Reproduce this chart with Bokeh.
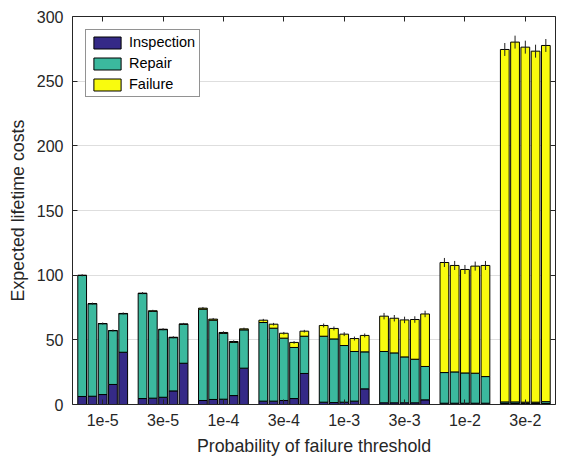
import numpy as np
from bokeh.plotting import figure
from bokeh.models import (ColumnDataSource, FixedTicker, LinearAxis, Range1d,
                          Legend, LegendItem)
from bokeh.embed import file_html
from bokeh.resources import INLINE

# Probability-of-failure thresholds (one group of five runs each)
thresholds = ["1e-5", "3e-5", "1e-4", "3e-4", "1e-3", "3e-3", "1e-2", "3e-2"]

# Expected lifetime cost components per run
inspection = [
    [6.2, 6.4, 7.7, 15.5, 40.4],
    [4.6, 4.9, 5.6, 10.5, 31.9],
    [3.1, 3.9, 4.1, 6.9, 28.1],
    [2.6, 2.6, 3.1, 4.6, 24.0],
    [1.8, 1.5, 1.8, 2.6, 12.1],
    [1.3, 1.3, 1.3, 1.3, 3.6],
    [1.0, 1.0, 1.0, 1.0, 1.0],
    [0.8, 0.8, 0.8, 0.8, 0.8],
]
repair = [
    [93.6, 71.5, 54.8, 41.6, 29.8],
    [81.2, 67.2, 52.3, 41.2, 30.1],
    [70.6, 61.3, 50.9, 41.1, 29.6],
    [60.8, 56.4, 48.2, 39.5, 28.8],
    [51.0, 49.2, 43.8, 38.4, 28.6],
    [39.7, 38.6, 35.5, 33.7, 25.8],
    [23.7, 24.2, 23.4, 23.2, 20.6],
    [1.2, 1.2, 1.0, 1.0, 1.4],
]
failure = [
    [0.1, 0.1, 0.1, 0.1, 0.2],
    [0.3, 0.3, 0.3, 0.3, 0.3],
    [0.8, 0.8, 0.7, 0.7, 0.8],
    [1.8, 3.1, 3.8, 3.9, 3.9],
    [8.3, 8.1, 8.8, 10.0, 12.7],
    [27.3, 26.8, 28.6, 30.7, 40.6],
    [85.1, 82.3, 80.0, 82.8, 85.9],
    [272.5, 278.2, 274.5, 271.4, 275.4],
]
# Half-width of the uncertainty on the total cost
error = [
    [0.8, 0.8, 0.8, 0.8, 0.8],
    [0.8, 0.8, 0.8, 0.8, 0.8],
    [0.9, 0.9, 0.9, 0.9, 0.9],
    [1.0, 1.0, 1.0, 1.0, 1.0],
    [1.5, 1.5, 1.5, 1.5, 1.5],
    [2.5, 2.5, 2.5, 2.5, 2.5],
    [3.5, 3.5, 3.5, 3.5, 3.5],
    [5.0, 5.0, 5.0, 5.0, 5.0],
]

FONT = "Liberation Sans"
TXT = "#262626"
C_INSP, C_REP, C_FAIL = "#352A87", "#3BB99E", "#F9FB0E"

n_groups = len(thresholds)
n_runs = len(inspection[0])
pitch = 0.17
x = np.array([g + 1 + (j - (n_runs - 1) / 2) * pitch
              for g in range(n_groups) for j in range(n_runs)])
ins = np.array(inspection).ravel()
rep = np.array(repair).ravel()
fai = np.array(failure).ravel()
err = np.array(error).ravel()
top1 = ins
top2 = ins + rep
top3 = ins + rep + fai

src = ColumnDataSource(dict(x=x, b0=np.zeros_like(x), t1=top1, t2=top2, t3=top3,
                            lo=top3 - err, hi=top3 + err))

p = figure(frame_width=483, frame_height=388, output_backend="svg",
           toolbar_location=None, x_range=Range1d(0.5, n_groups + 0.5),
           y_range=Range1d(0, 300), min_border_left=72, min_border_right=7,
           min_border_top=16, min_border_bottom=58, background_fill_color="white",
           border_fill_color="white", outline_line_color=None)

w = 0.145
r1 = p.vbar(x="x", bottom="b0", top="t1", width=w, source=src,
            fill_color=C_INSP, line_color="black", line_width=1)
r2 = p.vbar(x="x", bottom="t1", top="t2", width=w, source=src,
            fill_color=C_REP, line_color="black", line_width=1)
r3 = p.vbar(x="x", bottom="t2", top="t3", width=w, source=src,
            fill_color=C_FAIL, line_color="black", line_width=1)
p.segment(x0="x", y0="lo", x1="x", y1="hi", source=src, line_color="#222222",
          line_width=1)

# axes: ticks pointing inward, boxed frame
xt = FixedTicker(ticks=list(range(1, n_groups + 1)))
yt = FixedTicker(ticks=[0, 50, 100, 150, 200, 250, 300])
p.xaxis.ticker = xt
p.xaxis.major_label_overrides = {i + 1: t for i, t in enumerate(thresholds)}
p.yaxis.ticker = yt
for ax in (p.xaxis[0], p.yaxis[0]):
    ax.major_tick_in = 5
    ax.major_tick_out = 0
    ax.minor_tick_line_color = None
    ax.axis_line_color = TXT
    ax.major_tick_line_color = TXT
    ax.major_label_text_font = FONT
    ax.major_label_text_font_size = "16px"
    ax.major_label_text_color = TXT
    ax.axis_label_text_font = FONT
    ax.axis_label_text_font_size = "17.8px"
    ax.axis_label_text_font_style = "normal"
    ax.axis_label_text_color = TXT
p.xaxis.axis_label = "Probability of failure threshold"
p.yaxis.axis_label = "Expected lifetime costs"
p.xaxis.major_label_standoff = 9
p.yaxis.major_label_standoff = 9
p.xaxis.axis_label_standoff = 7
p.yaxis.axis_label_standoff = 6

# top and right edges: tick marks only, no labels
for loc, tk in (("above", xt), ("right", yt)):
    ax = LinearAxis(ticker=tk, major_tick_in=5, major_tick_out=0,
                    minor_tick_line_color=None, axis_line_color=TXT,
                    major_tick_line_color=TXT, major_label_text_color=None,
                    major_label_text_font_size="1px", major_label_standoff=0)
    p.add_layout(ax, loc)

p.xgrid.grid_line_color = None
p.ygrid.grid_line_color = "#DEDEDE"
p.ygrid.ticker = yt

legend = Legend(items=[LegendItem(label="Inspection", renderers=[r1]),
                       LegendItem(label="Repair", renderers=[r2]),
                       LegendItem(label="Failure", renderers=[r3])],
                location="top_left", margin=13, padding=4, spacing=5,
                glyph_width=34, glyph_height=15, label_height=15,
                label_standoff=5, label_text_font=FONT,
                label_text_font_size="14.5px", label_text_color="black",
                border_line_color=TXT, border_line_width=1,
                background_fill_color="white", background_fill_alpha=1)
p.add_layout(legend)

open("out.html", "w").write(file_html(p, INLINE))
